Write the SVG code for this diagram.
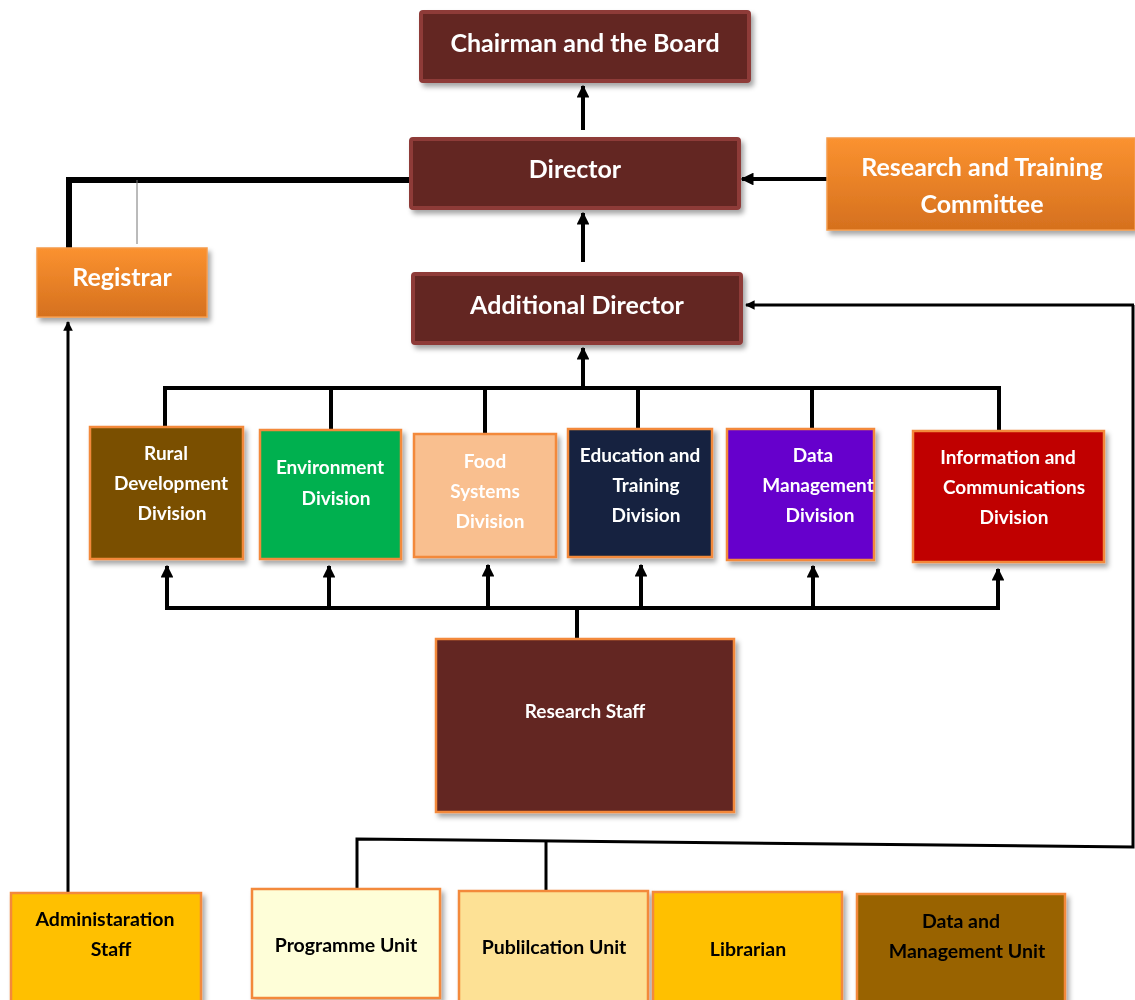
<svg xmlns="http://www.w3.org/2000/svg" width="1135" height="1000" viewBox="0 0 1135 1000">
<defs>
<style>
text{font-family:Lato,"Open Sans","Liberation Sans",sans-serif;font-weight:bold;text-anchor:middle;dominant-baseline:central}
.w{fill:#fff}
.k{fill:#000}
.t1{font-size:25px}
.t2{font-size:19px}
.t3{font-size:19.5px}
.mar{fill:#632523;stroke:#8E3A38;stroke-width:4}
.org{fill:url(#og);stroke:#F59A4A;stroke-width:1.5}
.div{stroke:#F3893A;stroke-width:2.5}
.ln{fill:none;stroke:#000;stroke-width:4}
.thin{fill:none;stroke:#000;stroke-width:3}
</style>
<linearGradient id="og" x1="0" y1="0" x2="0" y2="1">
<stop offset="0" stop-color="#FB9230"/>
<stop offset="1" stop-color="#D5701E"/>
</linearGradient>
<filter id="sh" x="-10%" y="-10%" width="125%" height="130%">
<feDropShadow dx="3" dy="4" stdDeviation="2.5" flood-color="#000" flood-opacity="0.35"/>
</filter>
<marker id="ah" viewBox="0 0 10 10" refX="9" refY="5" markerWidth="3.2" markerHeight="3.2" orient="auto">
<path d="M0,0 L10,5 L0,10 z" fill="#000"/>
</marker>
</defs>
<rect width="1135" height="1000" fill="#fff"/>

<g id="connectors">
<line class="ln" x1="583" y1="130" x2="583" y2="86" marker-end="url(#ah)"/>
<line class="ln" x1="583" y1="262" x2="583" y2="213" marker-end="url(#ah)"/>
<line class="ln" x1="827" y1="179" x2="742" y2="179" marker-end="url(#ah)"/>
<polyline fill="none" stroke="#000" stroke-width="6" points="410,180 69,180 69,248"/>
<line x1="137" y1="180" x2="137" y2="244" stroke="#777" stroke-width="1"/>
<line class="thin" x1="68" y1="893" x2="68" y2="322" marker-end="url(#ah)"/>
<polyline class="ln" points="165,428 165,388 999,388 999,430"/>
<line class="ln" x1="331" y1="388" x2="331" y2="430"/>
<line class="ln" x1="485" y1="388" x2="485" y2="434"/>
<line class="ln" x1="638" y1="388" x2="638" y2="429"/>
<line class="ln" x1="812" y1="388" x2="812" y2="429"/>
<line class="ln" x1="583" y1="388" x2="583" y2="348" marker-end="url(#ah)"/>
<polyline class="ln" points="167,608 998,608"/>
<line class="ln" x1="167" y1="610" x2="167" y2="566" marker-end="url(#ah)"/>
<line class="ln" x1="329" y1="610" x2="329" y2="566" marker-end="url(#ah)"/>
<line class="ln" x1="488" y1="610" x2="488" y2="565" marker-end="url(#ah)"/>
<line class="ln" x1="641" y1="610" x2="641" y2="565" marker-end="url(#ah)"/>
<line class="ln" x1="813" y1="610" x2="813" y2="566" marker-end="url(#ah)"/>
<line class="ln" x1="998" y1="610" x2="998" y2="569" marker-end="url(#ah)"/>
<line class="ln" x1="577" y1="606" x2="577" y2="640"/>
<polyline class="thin" points="1133,305 1133,847 357,839 357,889"/>
<line class="thin" x1="1134" y1="305" x2="746" y2="305" marker-end="url(#ah)"/>
<line class="thin" x1="546" y1="841" x2="546" y2="891"/>
</g>

<g id="chairman" filter="url(#sh)"><rect class="mar" x="421" y="12" width="328" height="69" rx="2"/><text class="w t1" x="585" y="42">Chairman and the Board</text></g>
<g id="director" filter="url(#sh)"><rect class="mar" x="411" y="139" width="328" height="69" rx="2"/><text class="w t1" x="575" y="168">Director</text></g>
<g id="additional-director" filter="url(#sh)"><rect class="mar" x="413" y="274" width="328" height="69" rx="2"/><text class="w t1" x="577" y="304">Additional Director</text></g>
<g id="rtc" filter="url(#sh)"><rect class="org" x="827" y="138" width="308" height="92"/><text class="w t1" x="982" y="166">Research and Training</text><text class="w t1" x="982" y="203">Committee</text></g>
<g id="registrar" filter="url(#sh)"><rect class="org" x="37" y="248" width="170" height="69"/><text class="w t1" x="122" y="276">Registrar</text></g>

<g id="rural" filter="url(#sh)"><rect class="div" x="90" y="427" width="153" height="132" fill="#7A5000"/><text class="w t2" x="166" y="452">Rural</text><text class="w t2" x="171" y="482">Development</text><text class="w t2" x="172" y="512">Division</text></g>
<g id="environment" filter="url(#sh)"><rect class="div" x="260" y="430" width="141" height="129" fill="#00B050"/><text class="w t2" x="330" y="466">Environment</text><text class="w t2" x="336" y="497">Division</text></g>
<g id="food" filter="url(#sh)"><rect class="div" x="414" y="434" width="142" height="123" fill="#F9BF8F"/><text class="w t2" x="485" y="460">Food</text><text class="w t2" x="485" y="490">Systems</text><text class="w t2" x="490" y="520">Division</text></g>
<g id="education" filter="url(#sh)"><rect class="div" x="568" y="429" width="144" height="128" fill="#132440"/><text class="w t2" x="640" y="454">Education and</text><text class="w t2" x="646" y="484">Training</text><text class="w t2" x="646" y="514">Division</text></g>
<g id="data-management" filter="url(#sh)"><rect class="div" x="727" y="429" width="147" height="131" fill="#6600CC"/><text class="w t2" x="813" y="454">Data</text><text class="w t2" x="818" y="484">Management</text><text class="w t2" x="820" y="514">Division</text></g>
<g id="info-comm" filter="url(#sh)"><rect class="div" x="913" y="431" width="191" height="131" fill="#C00000"/><text class="w t2" x="1008" y="456">Information and</text><text class="w t2" x="1014" y="486">Communications</text><text class="w t2" x="1014" y="516">Division</text></g>

<g id="research-staff" filter="url(#sh)"><rect class="div" x="436" y="639" width="298" height="173" fill="#632523"/><text class="w t2" x="585" y="710">Research Staff</text></g>

<g id="admin-staff" filter="url(#sh)"><rect class="div" x="11" y="893" width="190" height="112" fill="#FFC000"/><text class="k t3" x="105" y="918">Administaration</text><text class="k t3" x="111" y="948">Staff</text></g>
<g id="programme-unit" filter="url(#sh)"><rect class="div" x="252" y="889" width="188" height="109" fill="#FEFED8"/><text class="k t3" x="346" y="944">Programme Unit</text></g>
<g id="publication-unit" filter="url(#sh)"><rect class="div" x="459" y="891" width="189" height="114" fill="#FDE195"/><text class="k t3" x="554" y="946">Publilcation Unit</text></g>
<g id="librarian" filter="url(#sh)"><rect class="div" x="653" y="892" width="189" height="113" fill="#FFC000"/><text class="k t3" x="748" y="948">Librarian</text></g>
<g id="data-mgmt-unit" filter="url(#sh)"><rect class="div" x="857" y="894" width="208" height="111" fill="#996300"/><text class="k t3" x="961" y="920">Data and</text><text class="k t3" x="967" y="950">Management Unit</text></g>
</svg>
